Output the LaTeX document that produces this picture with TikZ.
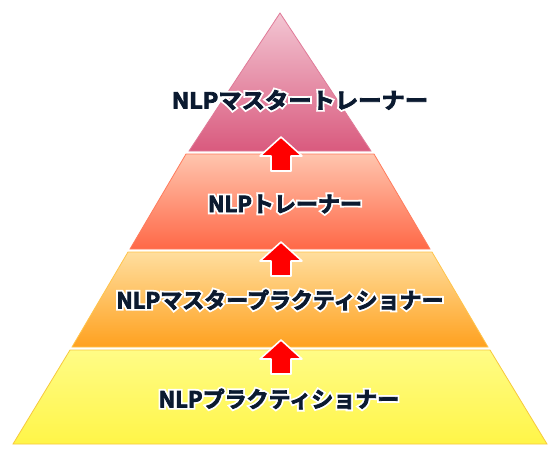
\documentclass[tikz,border=0pt]{standalone}
\usepackage{fontspec}
\newfontfamily\jp{Noto Sans CJK JP}[BoldFont=* Bold]
\newfontfamily\jpout{Noto Sans CJK JP}[BoldFont=* Bold, BoldFeatures={FakeBold=20}]
\newfontfamily\jpin{Noto Sans CJK JP}[BoldFont=* Bold, BoldFeatures={FakeBold=3.5}]
\definecolor{txt}{HTML}{0B1A30}
\definecolor{aTop}{HTML}{F3C6D3}
\definecolor{aBot}{HTML}{D95A7E}
\definecolor{aEdge}{HTML}{E07A98}
\definecolor{bTop}{HTML}{FFC5AE}
\definecolor{bBot}{HTML}{FF6847}
\definecolor{bEdge}{HTML}{FF7B5C}
\definecolor{cTop}{HTML}{FFDE9E}
\definecolor{cBot}{HTML}{FFA11F}
\definecolor{cEdge}{HTML}{FFC44A}
\definecolor{dTop}{HTML}{FFFC86}
\definecolor{dBot}{HTML}{FFF548}
\definecolor{dEdge}{HTML}{F7C93C}
\begin{document}
\begin{tikzpicture}[x=1pt,y=-1pt,
  layer/.style={line width=0.8pt, line join=miter},
  halo/.style={font=\jpout\bfseries\fontsize{22}{26}\selectfont, text=white, inner sep=0pt},
  lbl/.style={font=\jpin\bfseries\fontsize{22}{26}\selectfont, text=txt, inner sep=0pt},
  uparrow/.style={fill=red, draw=white, line width=1.6pt, line join=round}]
\useasboundingbox (0,0) rectangle (560,460);
\fill[white] (0,0) rectangle (560,460);
% layers
\shade[layer, draw=aEdge, top color=aTop, bottom color=aBot]
  (280,13) -- (371,151) -- (189,151) -- cycle;
\shade[layer, draw=bEdge, top color=bTop, bottom color=bBot]
  (186,154) -- (374,154) -- (430,249) -- (130,249) -- cycle;
\shade[layer, draw=cEdge, top color=cTop, bottom color=cBot]
  (128,252) -- (432,252) -- (488,347) -- (72,347) -- cycle;
\shade[layer, draw=dEdge, top color=dTop, bottom color=dBot]
  (70,350) -- (490,350) -- (547,444) -- (13,444) -- cycle;
% labels (white halo behind, dark text on top)
\node[halo] (h1) at (300,100) {\scalebox{1.06}[1]{NLPマスタートレーナー}};
\node[lbl]  (t1) at (h1) {\scalebox{1.06}[1]{NLPマスタートレーナー}};
\node[halo] (h2) at (285,204) {NLPトレーナー};
\node[lbl]  (t2) at (h2) {NLPトレーナー};
\node[halo] (h3) at (280,300) {NLPマスタープラクティショナー};
\node[lbl]  (t3) at (h3) {NLPマスタープラクティショナー};
\node[halo] (h4) at (279,399) {NLPプラクティショナー};
\node[lbl]  (t4) at (h4) {NLPプラクティショナー};
% arrows
\foreach \y/\n in {137/a1,242/a2,340/a3}{
  \coordinate (\n) at (281,\y);
  \draw[uparrow] (\n) -- ++(21,19) -- ++(-11,0) -- ++(0,15) -- ++(-20,0)
     -- ++(0,-15) -- ++(-11,0) -- cycle;
}
\end{tikzpicture}
\end{document}
